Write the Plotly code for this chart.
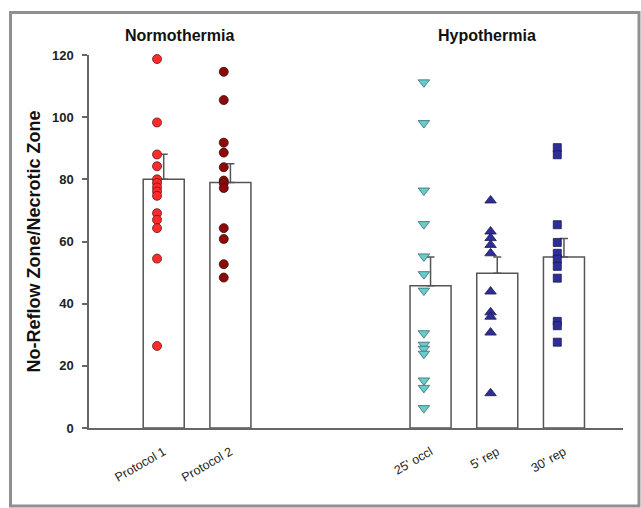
import plotly.graph_objects as go

# ---- data ----
categories = ["Protocol 1", "Protocol 2", "25' occl", "5' rep", "30' rep"]
groups = ["Normothermia", "Hypothermia"]
group_sizes = [2, 3]

bar_means = [80.0, 79.0, 45.8, 49.8, 55.0]
bar_sem = [8.1, 6.0, 9.2, 5.2, 6.0]

protocol1 = [118.7, 98.3, 88.0, 84.2, 80.0, 78.8, 77.4, 76.1, 74.7, 69.1, 67.0, 64.3, 54.5, 26.4]
protocol2 = [114.6, 105.5, 91.8, 88.6, 83.9, 79.6, 78.8, 77.2, 64.3, 60.8, 52.7, 48.4]
occl25 = [111.2, 98.1, 76.4, 65.6, 55.2, 49.5, 44.2, 30.5, 26.8, 25.5, 23.9, 15.3, 12.9, 6.4]
rep5 = [73.2, 63.2, 61.1, 58.9, 56.2, 43.9, 37.2, 35.8, 30.7, 11.2]
rep30 = [90.2, 87.9, 65.4, 59.7, 56.2, 54.3, 52.0, 48.2, 34.3, 32.9, 27.6]

y_ticks = [0, 20, 40, 60, 80, 100, 120]
y_title = "No-Reflow Zone/Necrotic Zone"

# ---- layout helpers ----
GROUP_GAP = 2  # empty slots between groups
positions = []
pos = 0
for gi, n in enumerate(group_sizes):
    for _ in range(n):
        positions.append(pos)
        pos += 1
    pos += GROUP_GAP
group_centers = [0.243, 4.846]

FONT = "Liberation Sans, Arial, sans-serif"
DOT_OFFSET = -0.1

series = [
    (protocol1, dict(symbol="circle", size=9, color="#ff2a2a", line=dict(color="#5a1a1a", width=0.8))),
    (protocol2, dict(symbol="circle", size=9, color="#8e0a0a", line=dict(color="#3a0a0a", width=0.8))),
    (occl25, dict(symbol="triangle-down", size=10, color="#66cccc", line=dict(color="#3a6a6a", width=0.8))),
    (rep5, dict(symbol="triangle-up", size=10, color="#2e2e96", line=dict(color="#1a1a50", width=0.8))),
    (rep30, dict(symbol="square", size=8, color="#2e2e96", line=dict(color="#1a1a50", width=0.8))),
]

fig = go.Figure()
fig.add_trace(go.Bar(
    x=positions, y=bar_means, width=0.615,
    marker=dict(color="white", line=dict(color="#555555", width=1.5)),
    error_y=dict(type="data", symmetric=False, array=bar_sem,
                 arrayminus=[0] * len(bar_sem), color="#555555",
                 thickness=1.5, width=4),
    showlegend=False, hoverinfo="skip",
))
for (vals, mk), p in zip(series, positions):
    fig.add_trace(go.Scatter(
        x=[p + DOT_OFFSET] * len(vals), y=vals, mode="markers",
        marker=mk, cliponaxis=False, showlegend=False,
    ))

L, R, T, B = 89, 18, 55, 80
W, H = 641, 508
pw, ph = W - L - R, H - T - B


def px(x):
    return (x - L) / pw


def py(y):
    return (H - B - y) / ph


annotations = [
    dict(text="<b>%s</b>" % g, x=c, xref="x", y=py(36), yref="paper",
         xanchor="center", yanchor="middle", showarrow=False,
         font=dict(family=FONT, size=16, color="#111111"))
    for g, c in zip(groups, group_centers)
]
annotations.append(dict(
    text="<b>%s</b>" % y_title, x=px(33), y=0.5, xref="paper", yref="paper",
    textangle=-90, xanchor="center", yanchor="middle", showarrow=False,
    font=dict(family=FONT, size=18, color="#111111")))

fig.update_layout(
    width=W, height=H,
    margin=dict(l=L, r=R, t=T, b=B),
    paper_bgcolor="white", plot_bgcolor="white",
    annotations=annotations,
    shapes=[dict(type="rect", xref="paper", yref="paper",
                 x0=px(10.5), x1=px(639), y0=py(506), y1=py(12.5),
                 line=dict(color="#909090", width=3), layer="below")],
    xaxis=dict(range=[-1.12, 6.885], tickvals=positions, ticktext=categories,
               tickangle=-30, showline=True, linecolor="#666666", linewidth=1.5,
               showgrid=False, zeroline=False, ticks="",
               ticklabelstandoff=10,
               tickfont=dict(family=FONT, size=12.5, color="#222222")),
    yaxis=dict(range=[0, 120], tickvals=y_ticks, showline=True,
               linecolor="#666666", linewidth=1.5, ticks="outside", ticklen=5,
               tickcolor="#666666", tickwidth=1.5, showgrid=False, zeroline=False,
               ticklabelstandoff=6,
               tickfont=dict(family=FONT, size=13, color="#222222", weight="bold")),
)

fig.write_html("out.html")
